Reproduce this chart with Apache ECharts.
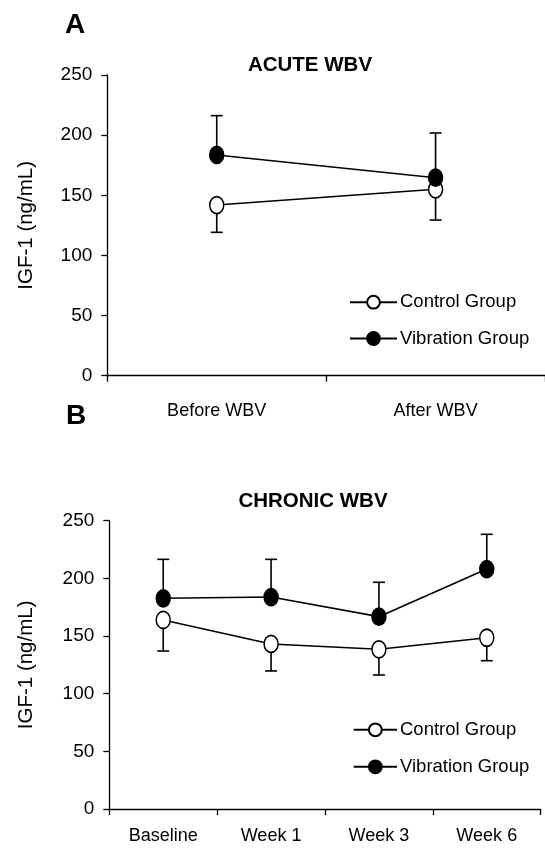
<!DOCTYPE html>
<html>
<head>
<meta charset="utf-8">
<script src="https://cdn.jsdelivr.net/npm/echarts@6/dist/echarts.min.js"></script>
<style>html,body{margin:0;padding:0;background:#fff;}#c{width:545px;height:849px;}</style>
</head>
<body>
<div id="c"></div>
<script>
// ---- data ----
const acuteCategories = ['Before WBV', 'After WBV'];
const acuteControl = [141.9, 155.0];
const acuteControlSD = [22.7, 25.6];
const acuteVibration = [183.5, 164.6];
const acuteVibrationSD = [32.7, 37.2];

const chronicCategories = ['Baseline', 'Week 1', 'Week 3', 'Week 6'];
const chronicControl = [163.9, 143.1, 138.5, 148.5];
const chronicControlSD = [26.9, 23.4, 22.3, 19.9];
const chronicVibration = [182.7, 183.8, 166.8, 208.1];
const chronicVibrationSD = [33.8, 32.7, 29.8, 30.1];

const yTicks = [0, 50, 100, 150, 200, 250];

// ---- font detection ----
function hasFont(name) {
  const c = document.createElement('canvas').getContext('2d');
  c.font = '22px monospace';
  const a = c.measureText('Before WBV Group 250').width;
  c.font = "22px '" + name + "', monospace";
  const b = c.measureText('Before WBV Group 250').width;
  return Math.abs(a - b) > 0.5;
}
const narrowOK = hasFont('Liberation Sans Narrow');
const NARROW = narrowOK ? "'Liberation Sans Narrow', 'Liberation Sans', Arial" : "'Liberation Sans', Arial";
const NS = narrowOK ? 1 : 0.82;
const SANS = "'Liberation Sans', Arial, sans-serif";

function errData(means, sds, sign) {
  return means.map((m, i) => [i, m, m + sign * sds[i]]);
}

function errRender(params, api) {
  const p0 = api.coord([api.value(0), api.value(1)]);
  const p1 = api.coord([api.value(0), api.value(2)]);
  const hw = 6;
  const st = { stroke: '#000', lineWidth: 1.6 };
  return {
    type: 'group',
    children: [
      { type: 'line', shape: { x1: p0[0], y1: p0[1], x2: p1[0], y2: p1[1] }, style: st },
      { type: 'line', shape: { x1: p1[0] - hw, y1: p1[1], x2: p1[0] + hw, y2: p1[1] }, style: st }
    ]
  };
}

const axisLine = { show: true, lineStyle: { color: '#000', width: 1.3 } };
const axisTick = { show: true, length: 6, lineStyle: { color: '#000', width: 1.3 } };

function yAxis(gridIndex, gap) {
  return {
    type: 'value', gridIndex, min: 0, max: 250, interval: 50,
    name: 'IGF-1 (ng/mL)', nameLocation: 'middle', nameGap: gap,
    nameTextStyle: { fontFamily: SANS, fontSize: 20.5, color: '#000' },
    axisLine, axisTick, splitLine: { show: false },
    axisLabel: { fontFamily: SANS, fontSize: 19, color: '#000', margin: 15,
      formatter: v => yTicks.includes(v) ? String(v) : '' }
  };
}
function xAxis(gridIndex, cats, margin) {
  return {
    type: 'category', gridIndex, data: cats, boundaryGap: true,
    axisLine, axisTick: Object.assign({ alignWithLabel: false, interval: 0 }, axisTick),
    splitLine: { show: false },
    axisLabel: { fontFamily: NARROW, fontSize: 22 * NS, color: '#000', margin, interval: 0 }
  };
}

function lineSeries(name, xi, data, filled) {
  return {
    name, type: 'line', xAxisIndex: xi, yAxisIndex: xi, data, z: 3,
    symbol: 'circle', symbolSize: [14, 17],
    lineStyle: { color: '#000', width: 1.6 },
    itemStyle: { color: filled ? '#000' : '#fff', borderColor: '#000', borderWidth: 1.6 },
    emphasis: { disabled: true }
  };
}
function errSeries(name, xi, data) {
  return {
    name, type: 'custom', xAxisIndex: xi, yAxisIndex: xi, data, z: 1,
    renderItem: errRender, silent: true
  };
}

function legend(left, top, gap, w) {
  return {
    orient: 'vertical', left, top, itemWidth: w, itemHeight: 16, itemGap: gap,
    padding: 0, selectedMode: false,
    data: ['Control Group', 'Vibration Group'],
    textStyle: { fontFamily: SANS, fontSize: 18.5, lineHeight: 16, color: '#000', padding: [0, 0, 0, -2] }
  };
}

const chart = echarts.init(document.getElementById('c'), null, { renderer: 'canvas' });
chart.setOption({
  backgroundColor: '#fff',
  animation: false,
  title: [
    { text: 'A', left: 65, top: 11, padding: 0, textStyle: { fontFamily: NARROW, fontWeight: 'bold', fontSize: narrowOK ? 31 : 28, color: '#000' } },
    { text: 'B', left: 66, top: 402, padding: 0, textStyle: { fontFamily: NARROW, fontWeight: 'bold', fontSize: narrowOK ? 31 : 28, color: '#000' } },
    { text: 'ACUTE WBV', left: 310, top: 55, padding: 0, textAlign: 'center', textStyle: { fontFamily: NARROW, fontWeight: 'bold', fontSize: 25 * NS, color: '#000' } },
    { text: 'CHRONIC WBV', left: 313, top: 491, padding: 0, textAlign: 'center', textStyle: { fontFamily: NARROW, fontWeight: 'bold', fontSize: 25 * NS, color: '#000' } }
  ],
  legend: [legend(349, 292.7, 17.3, 47), legend(352.7, 720.3, 18, 43.3)],
  grid: [
    { left: 107.3, top: 75, width: 446.4, height: 300.7 },
    { left: 109.3, top: 520.7, width: 431.4, height: 288.3 }
  ],
  xAxis: [xAxis(0, acuteCategories, 26), xAxis(1, chronicCategories, 18)],
  yAxis: [yAxis(0, 70), yAxis(1, 72)],
  series: [
    errSeries('errAC', 0, errData(acuteControl, acuteControlSD, -1)),
    errSeries('errAV', 0, errData(acuteVibration, acuteVibrationSD, 1)),
    lineSeries('Control Group', 0, acuteControl, false),
    lineSeries('Vibration Group', 0, acuteVibration, true),
    errSeries('errCC', 1, errData(chronicControl, chronicControlSD, -1)),
    errSeries('errCV', 1, errData(chronicVibration, chronicVibrationSD, 1)),
    lineSeries('Control Group', 1, chronicControl, false),
    lineSeries('Vibration Group', 1, chronicVibration, true)
  ]
});
</script>
</body>
</html>
